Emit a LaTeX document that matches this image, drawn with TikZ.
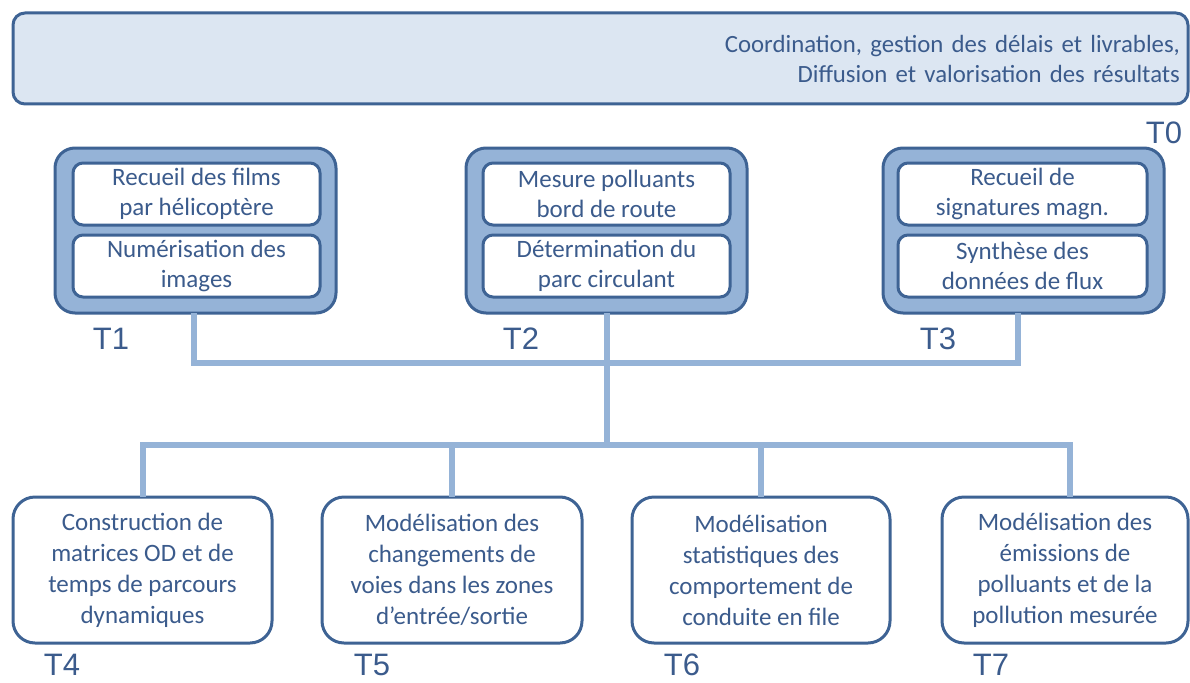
\documentclass[tikz,border=0pt]{standalone}
\usepackage{fontspec}
\setmainfont{Carlito}
\newfontfamily\labelfont{Liberation Sans}
\definecolor{textblue}{HTML}{3B5B8C}
\definecolor{darkborder}{HTML}{3E6394}
\definecolor{midblue}{HTML}{95B3D7}
\definecolor{lightfill}{HTML}{DCE6F2}
\tikzset{
  boxtext/.style={font=\fontsize{25}{30.5}\selectfont, text=textblue, align=center},
  topbox/.style={draw=darkborder, line width=3pt, fill=lightfill, rounded corners=12pt,
    minimum width=1175pt, minimum height=91pt, inner xsep=8pt, text width=1159pt, align=right,
    font=\fontsize{24.8}{30}\selectfont, text=textblue},
  groupbox/.style={draw=darkborder, line width=3pt, fill=midblue, rounded corners=20pt,
    minimum width=281pt, minimum height=165pt},
  innerbox/.style={boxtext, draw=darkborder, line width=3pt, fill=white, rounded corners=10pt,
    minimum width=247pt, minimum height=62pt, inner sep=0pt},
  taskbox/.style={boxtext, font=\fontsize{25}{31}\selectfont, draw=darkborder, line width=3pt, fill=white, rounded corners=22pt,
    minimum height=146pt, inner sep=0pt},
  tlabel/.style={font=\labelfont\fontsize{31}{31}\selectfont, text=textblue, inner sep=0pt},
  conn/.style={draw=midblue, line width=6pt, line join=miter}
}
\begin{document}
\begin{tikzpicture}[x=1pt,y=-1pt]
\useasboundingbox (0,0) rectangle (1190,682);

% top box
\node[topbox] (t0) at (600.5,58.5) {Coordination, gestion des délais et livrables,\\Diffusion et valorisation des résultats};
\node[tlabel] (l0) at (1164,133) {T0};

\coordinate (bus1) at (607,363);
\coordinate (bus2) at (607,445);

% group boxes
\node[groupbox] (t1) at (195.5,230.5) {};
\node[innerbox] (t1a) at (196.5,194) {Recueil des films\\par hélicoptère};
\node[innerbox] (t1b) at (196.5,266) {Numérisation des\\images};

\node[groupbox] (t2) at (606.5,230.5) {};
\node[innerbox] (t2a) at (606.5,194) {Mesure polluants\\bord de route};
\node[innerbox] (t2b) at (606.5,266) {Détermination du\\parc circulant};

\node[groupbox] (t3) at (1023.5,230.5) {};
\node[innerbox, minimum width=249pt] (t3a) at (1022.5,194) {Recueil de\\signatures magn.};
\node[innerbox, minimum width=249pt] (t3b) at (1022.5,266) {Synthèse des\\données de flux};

\node[tlabel] (l1) at (111,339) {T1};
\node[tlabel] (l2) at (521,339) {T2};
\node[tlabel] (l3) at (938,339) {T3};

% task boxes
\node[taskbox, minimum width=259pt] (t4) at (142.5,570) {Construction de\\matrices OD et de\\temps de parcours\\dynamiques};
\node[taskbox, minimum width=260pt] (t5) at (452,570) {Modélisation des\\changements de\\voies dans les zones\\d’entrée/sortie};
\node[taskbox, minimum width=258pt] (t6) at (761,570) {Modélisation\\statistiques des\\comportement de\\conduite en file};
\node[taskbox, minimum width=246pt] (t7) at (1065,570) {Modélisation des\\émissions de\\polluants et de la\\pollution mesurée};

\node[tlabel] (l4) at (62,665) {T4};
\node[tlabel] (l5) at (372,665) {T5};
\node[tlabel] (l6) at (682,665) {T6};
\node[tlabel] (l7) at (991,665) {T7};

% connectors
\draw[conn] ([xshift=-1.5pt,yshift=1.5pt]t1.south) -- ([xshift=-1.5pt]t1.south |- bus1) -- ([xshift=-5.5pt]t3.south |- bus1) -- ([xshift=-5.5pt,yshift=1.5pt]t3.south);
\draw[conn] ([yshift=1.5pt]t2.south) -- (t2.south |- bus2);
\draw[conn] ([yshift=-1.5pt]t4.north) -- (t4.north |- bus2) -- ([xshift=5pt]t7.north |- bus2) -- ([xshift=5pt,yshift=-1.5pt]t7.north);
\draw[conn] ([yshift=-1.5pt]t5.north) -- (t5.north |- bus2);
\draw[conn] ([yshift=-1.5pt]t6.north) -- (t6.north |- bus2);
\end{tikzpicture}
\end{document}
